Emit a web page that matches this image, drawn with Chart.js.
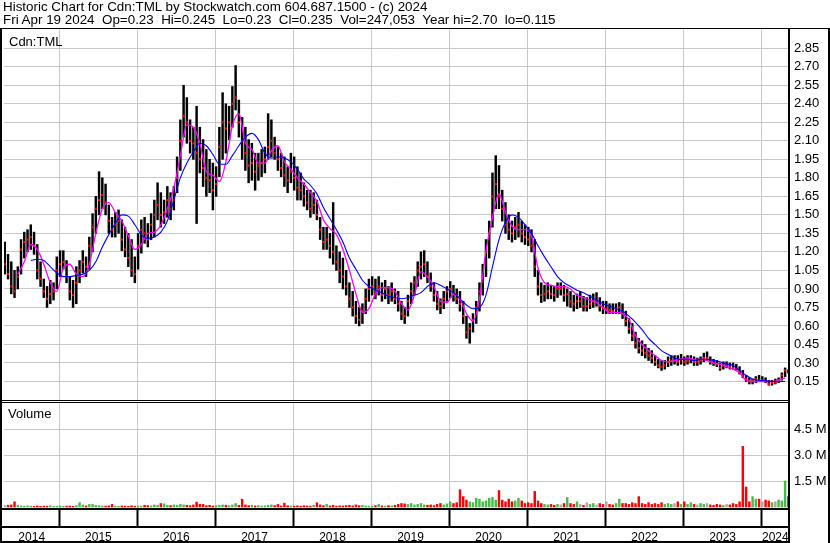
<!DOCTYPE html>
<html>
<head>
<meta charset="utf-8">
<script src="https://cdn.jsdelivr.net/npm/chart.js@4.4.1/dist/chart.umd.min.js"></script>
<style>
  html, body { margin: 0; padding: 0; background: #fff; }
  #wrap { position: relative; width: 830px; height: 543px; overflow: hidden; }
  canvas { position: absolute; left: 0; top: 0; }
  .txt { position: absolute; font-family: "Liberation Sans", Arial, sans-serif; color: #000; white-space: pre; line-height: 13px; }
  #head { left: 3px; top: 0; font-size: 13.4px; }
  #sym { left: 9px; top: 35px; font-size: 13px; }
  #vol { left: 8px; top: 407px; font-size: 13px; }
</style>
</head>
<body>
<div id="wrap">
  <canvas id="stock_chart" width="830" height="543"></canvas>
  <div class="txt" id="head">Historic Chart for Cdn:TML by Stockwatch.com 604.687.1500 - (c) 2024
Fri Apr 19 2024  Op=0.23  Hi=0.245  Lo=0.23  Cl=0.235  Vol=247,053  Year hi=2.70  lo=0.115</div>
  <div class="txt" id="sym">Cdn:TML</div>
  <div class="txt" id="vol">Volume</div>
</div>
<script>
// half-month bars, first one in mid April 2014
const firstBar = 2014.30;
const barsPerYear = 24;
// moving averages, one point a month
const firstAvg = 2014.30;
const avgPerYear = 12;
const xMin = 2014.29;
const xMax = 2024.35;

const years = [2014, 2015, 2016, 2017, 2018, 2019, 2020, 2021, 2022, 2023, 2024];
const priceTicks = [0.15, 0.30, 0.45, 0.60, 0.75, 0.90, 1.05, 1.20, 1.35, 1.50,
  1.65, 1.80, 1.95, 2.10, 2.25, 2.40, 2.55, 2.70, 2.85];
const volumeTicks = [1.5, 3.0, 4.5]; // millions

const hi = [
  1.28, 1.18, 1.12, 1.05, 1.08, 1.30, 1.36, 1.38, 1.42, 1.36, 1.26, 1.12,
  0.98, 0.92, 0.97, 0.95, 1.16, 1.21, 1.21, 1.13, 1.00, 0.97, 1.08, 1.13,
  1.21, 1.16, 1.32, 1.51, 1.65, 1.85, 1.80, 1.75, 1.58, 1.48, 1.52, 1.54,
  1.46, 1.40, 1.35, 1.30, 1.16, 1.35, 1.46, 1.48, 1.43, 1.51, 1.62, 1.76,
  1.68, 1.62, 1.73, 1.68, 1.73, 1.97, 2.27, 2.55, 2.45, 2.27, 2.21, 2.38,
  2.21, 2.11, 2.03, 1.95, 1.92, 1.89, 2.21, 2.49, 2.40, 2.38, 2.54, 2.71,
  2.43, 2.29, 2.21, 2.11, 2.08, 2.00, 2.00, 2.03, 2.05, 2.32, 2.27, 2.13,
  2.05, 2.00, 1.97, 1.89, 2.00, 1.97, 1.89, 1.84, 1.76, 1.70, 1.70, 1.68,
  1.62, 1.48, 1.40, 1.40, 1.35, 1.60, 1.25, 1.20, 1.15, 1.05, 0.95, 0.88,
  0.80, 0.75, 0.78, 0.90, 0.98, 1.00, 0.98, 1.00, 0.95, 0.97, 0.92, 0.95,
  0.90, 0.88, 0.80, 0.75, 0.85, 0.95, 1.00, 1.12, 1.20, 1.21, 1.12, 1.03,
  0.95, 0.88, 0.82, 0.88, 0.92, 0.96, 0.93, 0.90, 0.88, 0.80, 0.68, 0.62,
  0.70, 0.80, 0.95, 1.10, 1.30, 1.45, 1.84, 1.98, 1.90, 1.70, 1.60, 1.50,
  1.45, 1.48, 1.52, 1.45, 1.42, 1.40, 1.38, 1.30, 1.05, 0.95, 0.93, 0.95,
  0.93, 0.92, 0.95, 0.95, 0.93, 0.90, 0.88, 0.85, 0.86, 0.88, 0.84, 0.83,
  0.85, 0.86, 0.87, 0.83, 0.80, 0.80, 0.78, 0.78, 0.78, 0.79, 0.78, 0.72,
  0.66, 0.62, 0.55, 0.50, 0.48, 0.45, 0.42, 0.40, 0.36, 0.33, 0.32, 0.32,
  0.35, 0.36, 0.36, 0.36, 0.37, 0.35, 0.36, 0.36, 0.35, 0.34, 0.35, 0.38,
  0.39, 0.35, 0.33, 0.32, 0.30, 0.31, 0.31, 0.30, 0.30, 0.29, 0.27, 0.24,
  0.20, 0.18, 0.17, 0.19, 0.20, 0.19, 0.18, 0.16, 0.16, 0.17, 0.18, 0.22,
  0.26, 0.245
];
const lo = [
  1.02, 0.98, 0.86, 0.83, 0.90, 1.02, 1.15, 1.20, 1.22, 1.18, 0.98, 0.92,
  0.83, 0.75, 0.78, 0.81, 0.90, 1.00, 1.06, 0.95, 0.81, 0.75, 0.78, 0.95,
  1.03, 1.00, 1.06, 1.20, 1.35, 1.50, 1.55, 1.50, 1.35, 1.32, 1.32, 1.35,
  1.21, 1.16, 1.08, 1.00, 0.95, 1.06, 1.19, 1.27, 1.24, 1.30, 1.32, 1.46,
  1.40, 1.43, 1.48, 1.46, 1.54, 1.68, 1.86, 2.13, 2.08, 2.00, 1.95, 1.43,
  1.84, 1.73, 1.65, 1.68, 1.54, 1.65, 1.81, 1.95, 2.00, 2.11, 2.21, 2.35,
  2.13, 1.95, 1.86, 1.76, 1.78, 1.70, 1.78, 1.81, 1.84, 1.95, 1.97, 1.95,
  1.86, 1.81, 1.73, 1.68, 1.76, 1.70, 1.62, 1.62, 1.57, 1.54, 1.48, 1.51,
  1.46, 1.30, 1.22, 1.22, 1.15, 1.10, 1.05, 0.95, 0.90, 0.85, 0.75, 0.68,
  0.62, 0.60, 0.62, 0.70, 0.80, 0.85, 0.82, 0.85, 0.80, 0.82, 0.78, 0.80,
  0.78, 0.72, 0.65, 0.62, 0.68, 0.78, 0.85, 0.92, 0.98, 1.00, 0.95, 0.88,
  0.80, 0.73, 0.70, 0.74, 0.80, 0.83, 0.80, 0.78, 0.72, 0.62, 0.50, 0.46,
  0.55, 0.62, 0.72, 0.85, 1.00, 1.15, 1.40, 1.55, 1.55, 1.45, 1.35, 1.30,
  1.28, 1.30, 1.32, 1.28, 1.26, 1.25, 1.20, 1.00, 0.85, 0.79, 0.80, 0.82,
  0.82, 0.80, 0.83, 0.85, 0.80, 0.76, 0.75, 0.72, 0.74, 0.75, 0.72, 0.72,
  0.74, 0.75, 0.76, 0.72, 0.70, 0.70, 0.70, 0.70, 0.70, 0.70, 0.66, 0.60,
  0.54, 0.48, 0.42, 0.38, 0.36, 0.34, 0.32, 0.30, 0.28, 0.26, 0.24, 0.25,
  0.27, 0.28, 0.29, 0.28, 0.29, 0.28, 0.29, 0.30, 0.28, 0.28, 0.29, 0.31,
  0.32, 0.29, 0.28, 0.27, 0.24, 0.25, 0.26, 0.25, 0.25, 0.24, 0.21, 0.18,
  0.15, 0.13, 0.13, 0.14, 0.15, 0.15, 0.14, 0.12, 0.12, 0.13, 0.14, 0.16,
  0.19, 0.22
];
const cl = [
  1.10, 1.02, 0.92, 0.88, 1.00, 1.22, 1.28, 1.30, 1.32, 1.25, 1.05, 0.98,
  0.88, 0.82, 0.86, 0.88, 1.05, 1.10, 1.12, 1.00, 0.88, 0.85, 0.95, 1.05,
  1.12, 1.08, 1.25, 1.40, 1.55, 1.62, 1.66, 1.60, 1.45, 1.38, 1.42, 1.45,
  1.30, 1.22, 1.15, 1.05, 1.02, 1.25, 1.38, 1.35, 1.30, 1.42, 1.50, 1.58,
  1.50, 1.52, 1.62, 1.55, 1.62, 1.80, 2.10, 2.30, 2.25, 2.10, 2.08, 2.00,
  1.95, 1.88, 1.80, 1.78, 1.70, 1.75, 2.05, 2.25, 2.20, 2.25, 2.40, 2.45,
  2.25, 2.10, 2.00, 1.90, 1.92, 1.85, 1.90, 1.92, 1.95, 2.05, 2.10, 2.00,
  1.95, 1.88, 1.82, 1.78, 1.85, 1.80, 1.72, 1.70, 1.65, 1.60, 1.55, 1.58,
  1.50, 1.38, 1.28, 1.30, 1.25, 1.20, 1.12, 1.05, 1.00, 0.92, 0.82, 0.75,
  0.68, 0.65, 0.72, 0.82, 0.90, 0.92, 0.88, 0.92, 0.85, 0.90, 0.85, 0.88,
  0.82, 0.78, 0.70, 0.68, 0.80, 0.88, 0.95, 1.05, 1.08, 1.10, 1.00, 0.92,
  0.85, 0.78, 0.76, 0.82, 0.88, 0.90, 0.86, 0.82, 0.78, 0.68, 0.55, 0.58,
  0.65, 0.75, 0.88, 1.00, 1.20, 1.35, 1.65, 1.75, 1.65, 1.55, 1.42, 1.38,
  1.35, 1.40, 1.42, 1.35, 1.32, 1.30, 1.25, 1.08, 0.92, 0.85, 0.86, 0.88,
  0.86, 0.85, 0.90, 0.90, 0.85, 0.86, 0.80, 0.78, 0.80, 0.80, 0.76, 0.76,
  0.78, 0.80, 0.80, 0.76, 0.74, 0.74, 0.73, 0.72, 0.74, 0.75, 0.70, 0.64,
  0.58, 0.52, 0.46, 0.42, 0.40, 0.38, 0.36, 0.34, 0.31, 0.28, 0.27, 0.28,
  0.31, 0.32, 0.32, 0.31, 0.33, 0.31, 0.32, 0.33, 0.31, 0.31, 0.32, 0.34,
  0.34, 0.31, 0.30, 0.29, 0.26, 0.28, 0.28, 0.27, 0.26, 0.25, 0.23, 0.20,
  0.17, 0.15, 0.16, 0.17, 0.16, 0.16, 0.15, 0.13, 0.14, 0.14, 0.16, 0.20,
  0.24, 0.235
];
// volume, millions of shares
const vol = [
  0.08, 0.10, 0.12, 0.30, 0.10, 0.06, 0.05, 0.07, 0.05, 0.04, 0.06, 0.04,
  0.05, 0.05, 0.07, 0.04, 0.05, 0.06, 0.04, 0.05, 0.06, 0.04, 0.08, 0.25,
  0.12, 0.06, 0.15, 0.15, 0.10, 0.08, 0.06, 0.05, 0.07, 0.15, 0.05, 0.04,
  0.06, 0.05, 0.04, 0.07, 0.05, 0.06, 0.05, 0.10, 0.08, 0.06, 0.12, 0.10,
  0.20, 0.18, 0.10, 0.08, 0.12, 0.10, 0.15, 0.12, 0.10, 0.08, 0.12, 0.28,
  0.15, 0.15, 0.08, 0.10, 0.06, 0.08, 0.10, 0.12, 0.10, 0.08, 0.12, 0.20,
  0.10, 0.45, 0.12, 0.08, 0.10, 0.06, 0.08, 0.05, 0.07, 0.10, 0.12, 0.08,
  0.15, 0.06, 0.22, 0.08, 0.06, 0.05, 0.07, 0.05, 0.08, 0.06, 0.05, 0.10,
  0.25, 0.12, 0.08, 0.15, 0.06, 0.10, 0.05, 0.07, 0.06, 0.08, 0.10, 0.06,
  0.12, 0.08, 0.10, 0.06, 0.05, 0.05, 0.08, 0.15, 0.06, 0.05, 0.08, 0.06,
  0.10, 0.15, 0.20, 0.18, 0.15, 0.20, 0.12, 0.15, 0.20, 0.12, 0.10, 0.12,
  0.08, 0.15, 0.20, 0.12, 0.18, 0.30, 0.20, 0.25, 1.00, 0.60, 0.40, 0.30,
  0.25, 0.50, 0.45, 0.30, 0.35, 0.50, 0.55, 0.40, 0.95, 0.40, 0.30, 0.45,
  0.30, 0.35, 0.50, 0.35, 0.20, 0.25, 0.20, 0.90, 0.35, 0.20, 0.15, 0.12,
  0.15, 0.10, 0.15, 0.12, 0.20, 0.55, 0.20, 0.15, 0.30, 0.15, 0.10, 0.25,
  0.15, 0.20, 0.12, 0.20, 0.15, 0.30, 0.15, 0.12, 0.20, 0.45, 0.20, 0.20,
  0.15, 0.25, 0.20, 0.60, 0.20, 0.15, 0.25, 0.15, 0.20, 0.15, 0.25, 0.15,
  0.20, 0.15, 0.20, 0.30, 0.15, 0.30, 0.15, 0.25, 0.15, 0.12, 0.20, 0.15,
  0.20, 0.12, 0.10, 0.15, 0.12, 0.10, 0.15, 0.12, 0.20, 0.15, 0.30, 3.50,
  1.15, 0.30, 0.60, 0.45, 0.45, 0.30, 0.40, 0.35, 0.25, 0.30, 0.40, 0.35,
  1.50, 0.60
];
// short (magenta) and long (blue) moving averages
const avgShort = [
  null, null, 1.02, 1.12, 1.26, 1.22, 1.10, 0.95, 0.88, 1.07, 1.10, 1.02,
  1.00, 1.10, 1.35, 1.55, 1.60, 1.52, 1.45, 1.33, 1.22, 1.26, 1.35, 1.36,
  1.42, 1.55, 1.72, 1.98, 2.23, 2.21, 2.08, 1.85, 1.82, 1.77, 1.93, 2.22,
  2.32, 2.08, 2.03, 1.92, 1.92, 2.02, 2.06, 1.93, 1.87, 1.80, 1.75, 1.68,
  1.61, 1.46, 1.39, 1.34, 1.22, 1.05, 0.86, 0.71, 0.74, 0.86, 0.91, 0.91,
  0.88, 0.78, 0.73, 0.85, 1.04, 1.00, 0.92, 0.80, 0.79, 0.86, 0.82, 0.70,
  0.64, 0.82, 1.21, 1.48, 1.67, 1.52, 1.41, 1.38, 1.38, 1.33, 1.07, 0.95,
  0.93, 0.92, 0.92, 0.90, 0.85, 0.83, 0.81, 0.79, 0.75, 0.71, 0.71, 0.70,
  0.65, 0.52, 0.45, 0.40, 0.36, 0.32, 0.31, 0.32, 0.33, 0.34, 0.33, 0.33,
  0.32, 0.30, 0.29, 0.27, 0.25, 0.22, 0.16, 0.15, 0.15, 0.15, 0.15, 0.16,
  0.18
];
const avgLong = [
  null, null, null, null, 1.13, 1.14, 1.13, 1.08, 1.03, 1.00, 1.00, 1.01,
  1.02, 1.05, 1.12, 1.24, 1.34, 1.43, 1.50, 1.49, 1.42, 1.34, 1.31, 1.32,
  1.36, 1.45, 1.62, 1.80, 1.92, 2.01, 2.08, 2.06, 1.99, 1.91, 1.91, 1.98,
  2.06, 2.13, 2.16, 2.11, 2.00, 1.96, 1.97, 1.96, 1.93, 1.87, 1.79, 1.74,
  1.67, 1.56, 1.47, 1.38, 1.28, 1.15, 1.06, 0.97, 0.92, 0.89, 0.87, 0.84,
  0.83, 0.82, 0.83, 0.85, 0.87, 0.92, 0.95, 0.93, 0.90, 0.87, 0.82, 0.77,
  0.74, 0.75, 0.85, 1.08, 1.30, 1.44, 1.50, 1.48, 1.42, 1.35, 1.25, 1.16,
  1.08, 1.00, 0.95, 0.92, 0.89, 0.87, 0.84, 0.81, 0.78, 0.76, 0.74, 0.72,
  0.68, 0.63, 0.57, 0.50, 0.45, 0.40, 0.37, 0.34, 0.33, 0.33, 0.32, 0.33,
  0.33, 0.32, 0.31, 0.29, 0.28, 0.24, 0.20, 0.17, 0.16, 0.155, 0.15, 0.15,
  0.15
];

const cxt = document.getElementById("stock_chart");

const barTime = (i) => firstBar + i / barsPerYear;
const avgTime = (k) => firstAvg + k / avgPerYear;

const priceBars = hi.map((h, i) => ({ x: barTime(i), y: [lo[i], h] }));
const closeTicks = cl.map((c, i) => ({ x: barTime(i), y: c }));
const volumeBars = vol.map((v, i) => ({ x: barTime(i), y: v }));
const volumeColors = cl.map((c, i) => {
  if (i === 0 || c === cl[i - 1]) return "#a8a8a8";
  return c > cl[i - 1] ? "#4cb84c" : "#ff0000";
});
const shortLine = avgShort.map((v, k) => ({ x: avgTime(k), y: v }));
const longLine = avgLong.map((v, k) => ({ x: avgTime(k), y: v }));

const gridGray = "#c8c8c8";
const labelFont = { family: "'Liberation Sans', Arial, sans-serif", size: 13 };

// black frame of the stockwatch layout
const framePlugin = {
  id: "frame",
  afterDraw: (chart) => {
    const { ctx, chartArea } = chart;
    const yv = chart.scales.yv;
    const x2 = chart.scales.x2;
    const right = chartArea.right;
    ctx.save();
    ctx.fillStyle = "#fff";
    ctx.fillRect(2, yv.top - 1, right - 2, 3);
    ctx.fillStyle = "#000";
    ctx.fillRect(0, 28, 830, 1);
    ctx.fillRect(0, 28, 2, 515);
    ctx.fillRect(right - 1, 28, 2, 515);
    ctx.fillRect(828, 28, 2, 515);
    ctx.fillRect(0, yv.top - 1, right, 1);
    ctx.fillRect(0, yv.top + 1, right, 1);
    ctx.fillRect(0, chartArea.bottom, right, 2);
    ctx.fillRect(0, x2.top - 1, right, 2);
    ctx.fillRect(0, 541, right + 1, 2);
    ctx.restore();
  },
};

new Chart(cxt, {
  type: "bar",
  data: {
    datasets: [
      {
        type: "line", label: "Long average", data: longLine,
        xAxisID: "x", yAxisID: "y", borderColor: "#0000ff", borderWidth: 1.1,
        pointRadius: 0, cubicInterpolationMode: "monotone", order: 1,
      },
      {
        type: "line", label: "Short average", data: shortLine,
        xAxisID: "x", yAxisID: "y", borderColor: "#ff00ff", borderWidth: 1.3,
        pointRadius: 0, cubicInterpolationMode: "monotone", order: 2,
      },
      {
        type: "line", label: "Close", data: closeTicks,
        xAxisID: "x", yAxisID: "y", showLine: false, pointStyle: "rect",
        pointRadius: 1.45, pointBorderWidth: 0, pointBackgroundColor: "#ff0000", order: 3,
      },
      {
        type: "bar", label: "Price", data: priceBars,
        xAxisID: "x", yAxisID: "y", backgroundColor: "#000",
        barThickness: 1.8, grouped: false, order: 4,
      },
      {
        type: "bar", label: "Volume", data: volumeBars,
        xAxisID: "x", yAxisID: "yv", backgroundColor: volumeColors,
        barThickness: 1.8, grouped: false, order: 5,
      },
    ],
  },
  options: {
    responsive: false,
    animation: false,
    layout: { padding: { top: 29, left: 2, right: 0, bottom: 0 } },
    plugins: { legend: { display: false }, tooltip: { enabled: false } },
    scales: {
      x: {
        type: "linear", position: "bottom", min: xMin, max: xMax, offset: false,
        afterBuildTicks: (s) => { s.ticks = years.slice(1).map((v) => ({ value: v })); },
        ticks: { display: false },
        grid: { color: gridGray, lineWidth: 1, drawTicks: true, tickLength: 19,
          tickColor: "#000", tickWidth: 2, offset: false },
        border: { display: false },
        afterFit: (s) => { s.height = 19; },
      },
      x2: {
        type: "linear", axis: "x", position: "bottom", min: xMin, max: xMax, offset: false,
        afterBuildTicks: (s) => {
          s.ticks = years.map((y) => ({ value: (Math.max(y, xMin) + Math.min(y + 1, xMax)) / 2 }));
        },
        ticks: { font: { family: labelFont.family, size: 12 }, color: "#000", padding: 3,
          maxRotation: 0, autoSkip: false, callback: (v) => String(Math.floor(v)) },
        grid: { display: false, drawTicks: false },
        border: { display: false },
        afterFit: (s) => { s.height = 16; },
      },
      y: {
        type: "linear", position: "right", stack: "panels", stackWeight: 372,
        min: -0.008, max: 3.006,
        afterBuildTicks: (s) => { s.ticks = priceTicks.map((v) => ({ value: v })); },
        ticks: { font: labelFont, color: "#000", padding: 5, autoSkip: false,
          callback: (v) => v.toFixed(2) },
        grid: { color: gridGray, drawTicks: false },
        border: { display: false },
        afterFit: (s) => { s.width = 41; },
      },
      yv: {
        type: "linear", position: "right", stack: "panels", stackWeight: 107,
        min: -0.058, max: 6.12,
        afterBuildTicks: (s) => { s.ticks = volumeTicks.map((v) => ({ value: v })); },
        ticks: { font: labelFont, color: "#000", padding: 5, autoSkip: false,
          callback: (v) => v.toFixed(1) + " M" },
        grid: { color: gridGray, drawTicks: false },
        border: { display: false },
        afterFit: (s) => { s.width = 41; },
      },
    },
  },
  plugins: [framePlugin],
});
</script>
</body>
</html>
